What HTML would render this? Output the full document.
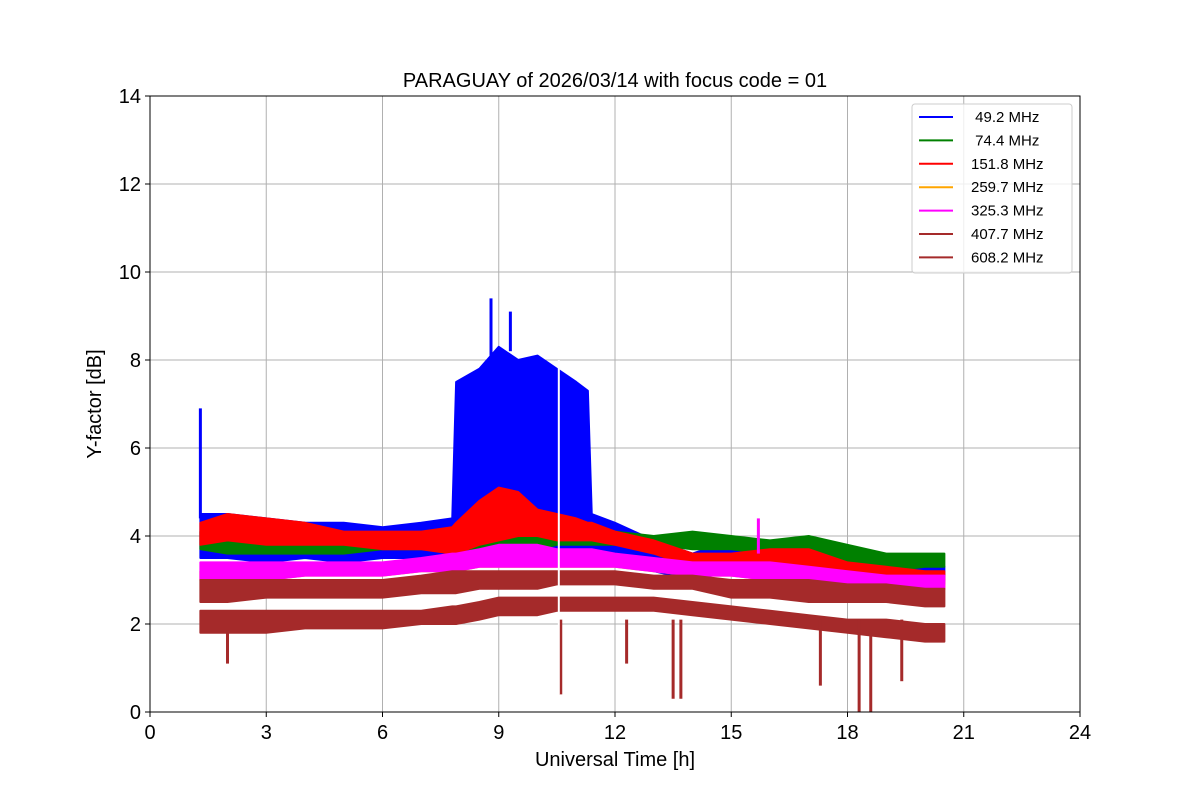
<!DOCTYPE html>
<html><head><meta charset="utf-8"><style>
body{margin:0;background:#fff;}
svg text{font-family:"Liberation Sans",sans-serif;}
</style></head><body>
<svg id="chart" width="1200" height="800" viewBox="0 0 1200 800">
<rect width="1200" height="800" fill="#fff"/>
<g id="grid"></g>
<g id="series"></g>
<rect x="150" y="96" width="930" height="616" fill="none" stroke="#000" stroke-width="1"/>
<g id="ticks"></g>
<text x="615" y="87" font-size="20" text-anchor="middle">PARAGUAY of 2026/03/14 with focus code = 01</text>
<text x="615" y="766" font-size="20" text-anchor="middle">Universal Time [h]</text>
<text transform="translate(101,404) rotate(-90)" font-size="20" text-anchor="middle">Y-factor [dB]</text>
<g id="legend"></g>
</svg>
<script>
const times=[1.3,2,3,4,5,6,7,7.8,7.9,8.5,9,9.5,10,10.5,11,11.3,11.4,12,13,14,15,16,17,18,19,20,20.5];
const labels=[" 49.2 MHz"," 74.4 MHz","151.8 MHz","259.7 MHz","325.3 MHz","407.7 MHz","608.2 MHz"];
const colors=["blue","green","red","orange","magenta","brown","brown"];
const hi49=[4.5,4.5,4.4,4.3,4.3,4.2,4.3,4.4,7.5,7.8,8.3,8.0,8.1,7.8,7.5,7.3,4.5,4.3,3.9,3.6,3.9,3.7,3.5,3.4,3.4,3.3,3.3];
const lo49=[3.5,3.5,3.4,3.5,3.4,3.5,3.5,3.5,3.5,3.5,3.5,3.5,3.5,3.6,3.6,3.6,3.7,3.6,3.2,3.0,3.2,3.2,3.0,2.9,2.9,3.0,3.0];
const hi74=[4.1,4.0,4.0,4.0,3.9,4.0,4.1,4.1,4.1,4.0,4.0,4.0,4.1,4.1,4.1,4.1,4.1,4.1,4.0,4.1,4.0,3.9,4.0,3.8,3.6,3.6,3.6];
const lo74=[3.7,3.6,3.6,3.6,3.6,3.7,3.7,3.7,3.7,3.7,3.7,3.7,3.7,3.8,3.8,3.8,3.8,3.8,3.8,3.7,3.7,3.6,3.5,3.4,3.2,3.3,3.3];
const hi151=[4.3,4.5,4.4,4.3,4.1,4.1,4.1,4.2,4.3,4.8,5.1,5.0,4.6,4.5,4.4,4.3,4.3,4.1,3.9,3.6,3.6,3.7,3.7,3.4,3.3,3.2,3.2];
const lo151=[3.8,3.9,3.8,3.8,3.8,3.7,3.7,3.6,3.6,3.8,3.9,4.0,4.0,3.9,3.9,3.9,3.9,3.8,3.6,3.3,3.2,3.1,3.0,2.9,2.9,2.9,2.9];
const hi259=[3.2,3.2,3.2,3.3,3.3,3.3,3.4,3.4,3.4,3.5,3.6,3.6,3.6,3.5,3.5,3.5,3.5,3.4,3.3,3.2,3.2,3.2,3.1,3.0,2.9,2.9,2.9];
const lo259=[3.0,3.0,3.0,3.1,3.1,3.1,3.2,3.2,3.2,3.3,3.3,3.3,3.3,3.3,3.3,3.3,3.3,3.3,3.2,3.1,3.1,3.0,3.0,2.9,2.8,2.8,2.8];
const hi325=[3.4,3.4,3.4,3.4,3.4,3.4,3.5,3.6,3.6,3.7,3.8,3.8,3.8,3.7,3.7,3.7,3.7,3.6,3.5,3.4,3.4,3.4,3.3,3.2,3.1,3.1,3.1];
const lo325=[3.0,3.0,3.0,3.1,3.1,3.1,3.2,3.2,3.2,3.3,3.3,3.3,3.3,3.3,3.3,3.3,3.3,3.3,3.2,3.1,3.1,3.0,3.0,2.9,2.8,2.8,2.8];
const hi407=[3.0,3.0,3.0,3.0,3.0,3.0,3.1,3.2,3.2,3.2,3.2,3.2,3.2,3.2,3.2,3.2,3.2,3.2,3.1,3.1,3.0,3.0,3.0,2.9,2.9,2.8,2.8];
const lo407=[2.5,2.5,2.6,2.6,2.6,2.6,2.7,2.7,2.7,2.8,2.8,2.8,2.8,2.9,2.9,2.9,2.9,2.9,2.8,2.8,2.6,2.6,2.5,2.5,2.5,2.4,2.4];
const hi608=[2.3,2.3,2.3,2.3,2.3,2.3,2.3,2.4,2.4,2.5,2.6,2.6,2.6,2.6,2.6,2.6,2.6,2.6,2.6,2.5,2.4,2.3,2.2,2.1,2.1,2.0,2.0];
const lo608=[1.8,1.8,1.8,1.9,1.9,1.9,2.0,2.0,2.0,2.1,2.2,2.2,2.2,2.3,2.3,2.3,2.3,2.3,2.3,2.2,2.1,2.0,1.9,1.8,1.7,1.6,1.6];
const dipTimes=[2.0,10.6,12.3,13.5,13.7,17.3,18.3,18.6,19.4];
const dipValues=[1.1,0.4,1.1,0.3,0.3,0.6,0.0,0.0,0.7];
const spikeTimes=[1.3,8.8,9.3,15.7];
const spikeBases=[4.4,7.8,8.2,3.6];
const spikeValues=[6.9,9.4,9.1,4.4];
const spikeColors=["blue","blue","blue","magenta"];
const xTicks=[0,3,6,9,12,15,18,21,24];
const yTicks=[0,2,4,6,8,10,12,14];

const X0=150,X1=1080,Y0=712,Y1=96;
const xs=t=>X0+(t/24)*(X1-X0);
const ys=v=>Y0-(v/14)*(Y0-Y1);
const NS="http://www.w3.org/2000/svg";
function mk(tag,attrs,parent){const e=document.createElementNS(NS,tag);for(const k in attrs)e.setAttribute(k,attrs[k]);parent.appendChild(e);return e;}
const grid=document.getElementById('grid'),ticks=document.getElementById('ticks'),ser=document.getElementById('series'),leg=document.getElementById('legend');
xTicks.forEach(t=>{
  const g=mk('line',{x1:xs(t),x2:xs(t),y1:Y1,y2:Y0,stroke:'#b0b0b0','stroke-width':1},grid);
  
  
  mk('line',{x1:xs(t),x2:xs(t),y1:Y0,y2:Y0+5,stroke:'#000'},ticks);
  const tx=mk('text',{x:xs(t),y:Y0+27,'font-size':20,'text-anchor':'middle'},ticks);
  tx.textContent=t;
  
  
});
yTicks.forEach(v=>{
  const g=mk('line',{x1:X0,x2:X1,y1:ys(v),y2:ys(v),stroke:'#b0b0b0','stroke-width':1},grid);
  
  
  mk('line',{x1:X0-5,x2:X0,y1:ys(v),y2:ys(v),stroke:'#000'},ticks);
  const tx=mk('text',{x:X0-9,y:ys(v)+7,'font-size':20,'text-anchor':'end'},ticks);
  tx.textContent=v;
  
  
});
const his=[hi49,hi74,hi151,hi259,hi325,hi407,hi608];
const los=[lo49,lo74,lo151,lo259,lo325,lo407,lo608];
his.forEach((hi,i)=>{
  const lo=los[i];
  let pts=times.map((t,j)=>xs(t)+','+ys(hi[j]));
  for(let j=times.length-1;j>=0;j--)pts.push(xs(times[j])+','+ys(lo[j]));
  const p=mk('polygon',{points:pts.join(' '),fill:colors[i],stroke:colors[i],'stroke-width':2,'stroke-linejoin':'round'},ser);
  
  
});
dipTimes.forEach((t,i)=>{
  const l=mk('line',{x1:xs(t),x2:xs(t),y1:ys(2.1),y2:ys(dipValues[i]),stroke:'brown','stroke-width':3},ser);
  
  
});
spikeTimes.forEach((t,i)=>{
  const l=mk('line',{x1:xs(t),x2:xs(t),y1:ys(spikeBases[i]),y2:ys(spikeValues[i]),stroke:spikeColors[i],'stroke-width':3},ser);
  
  
});
const gap=mk('line',{x1:xs(10.55),x2:xs(10.55),y1:ys(8),y2:ys(0.4),stroke:'#fff','stroke-width':2},ser);


const lb=mk('rect',{x:912,y:104,width:160,height:169,rx:3,fill:'#fff',stroke:'#ccc','fill-opacity':0.8},leg);


labels.forEach((s,i)=>{
  const y=117+i*23.4;
  const l=mk('line',{x1:919,x2:953,y1:y,y2:y,stroke:colors[i],'stroke-width':2},leg);
  
  
  const tx=mk('text',{x:971,y:y+5,'font-size':15},leg);
  tx.setAttribute('style','white-space:pre');
  tx.textContent=s;
  
  
});
</script>
</body></html>
